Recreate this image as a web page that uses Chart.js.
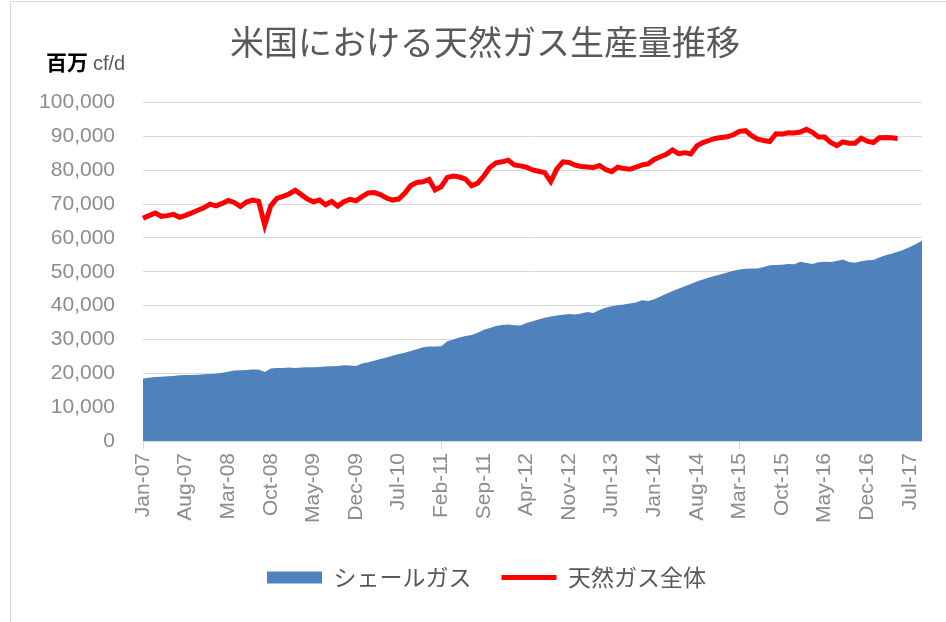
<!DOCTYPE html>
<html lang="ja">
<head>
<meta charset="utf-8">
<script src="https://cdn.jsdelivr.net/npm/chart.js@4.4.0/dist/chart.umd.min.js"></script>
<style>
  html, body { margin: 0; padding: 0; background: #fff; }
  #wrap { width: 946px; height: 622px; }
</style>
</head>
<body>
<div id="wrap"><canvas id="gasChart" width="946" height="622"></canvas></div>
<script>
// 月ラベル (Jan-07 〜 Sep-17)
const monthNames = ['Jan', 'Feb', 'Mar', 'Apr', 'May', 'Jun', 'Jul', 'Aug', 'Sep', 'Oct', 'Nov', 'Dec'];
const months = [];
for (let y = 2007; y <= 2017; y++) {
  for (let m = 0; m < 12; m++) {
    if (y === 2017 && m > 8) break;
    months.push(monthNames[m] + '-' + String(y).slice(2));
  }
}

// シェールガス (百万cf/d)
const shaleGas = [
  18500, 18700, 18900, 19000, 19100, 19200, 19400, 19500, 19500, 19600, 19700, 19800,
  19900, 20200, 20500, 20800, 20900, 21000, 21100, 21100, 20400, 21400, 21600, 21600,
  21700, 21600, 21700, 21800, 21800, 21900, 22000, 22100, 22200, 22400, 22300, 22200,
  22900, 23300, 23700, 24200, 24700, 25200, 25700, 26100, 26600, 27100, 27700, 27900,
  27900, 28000, 29500, 30000, 30600, 31000, 31300, 32000, 32900, 33400, 34000, 34300,
  34400, 34200, 34100, 34900, 35400, 35900, 36400, 36800, 37100, 37300, 37500, 37400,
  37700, 38100, 37800, 38700, 39400, 39800, 40100, 40300, 40600, 40900, 41600, 41400,
  41900, 42700, 43500, 44300, 45000, 45700, 46400, 47100, 47700, 48300, 48800, 49300,
  49800, 50300, 50700, 50900, 51000, 51000, 51400, 51900, 52000, 52100, 52300, 52200,
  53000, 52600, 52300, 52800, 53000, 52900, 53200, 53600, 52900, 52700, 53100, 53400,
  53500, 54200, 54900, 55300, 55900, 56500, 57300, 58200, 59200
];

// 天然ガス全体 (百万cf/d)
const totalGas = [
  65800, 66600, 67400, 66400, 66600, 67000, 66100, 66700, 67400, 68200, 68900, 70000,
  69500, 70200, 71100, 70500, 69300, 70600, 71200, 70800, 63800, 69500, 71700, 72300,
  73000, 74100, 72800, 71500, 70700, 71200, 69800, 70800, 69400, 70700, 71400, 71000,
  72200, 73300, 73400, 72800, 71800, 71200, 71500, 73200, 75500, 76400, 76600, 77300,
  74200, 75200, 77900, 78300, 78000, 77400, 75400, 76200, 78300, 80800, 82200, 82500,
  83000, 81600, 81300, 80900, 80100, 79700, 79300, 76700, 80400, 82500, 82300, 81500,
  81100, 81000, 80800, 81400, 80200, 79600, 80900, 80500, 80300, 80900, 81600, 81900,
  83200, 84000, 84700, 86000, 84900, 85200, 84800, 87200, 88200, 88800, 89400, 89700,
  89900, 90500, 91500, 91700, 90200, 89200, 88800, 88500, 90800, 90700, 91100, 91000,
  91300, 92100, 91200, 89800, 89800, 88200, 87300, 88400, 88000, 88000, 89500, 88600,
  88200, 89600, 89700, 89600, 89400
];

const seriesNames = ['シェールガス', '天然ガス全体'];
const chartTitle = '米国における天然ガス生産量推移';
const labelEvery = 7;

const jpFont = '"Noto Sans CJK JP", "Noto Sans", sans-serif';
const numFont = '"Liberation Sans", Arial, sans-serif';
const gridColor = '#d9d9d9';

// 枠線・タイトル・単位ラベル、凡例の位置調整
const extras = {
  id: 'extras',
  afterLayout(chart) {
    // 凡例をプロット中央寄りに少し右へ
    chart.legend.left += 13;
    chart.legend.right += 13;
  },
  afterDraw(chart) {
    const ctx = chart.ctx;
    ctx.save();
    ctx.strokeStyle = gridColor;
    ctx.lineWidth = 1;
    ctx.beginPath();
    ctx.moveTo(10.5, 622);
    ctx.lineTo(10.5, 1.5);
    ctx.lineTo(946, 1.5);
    ctx.stroke();

    ctx.fillStyle = '#595959';
    ctx.font = '34px ' + jpFont;
    ctx.textAlign = 'center';
    ctx.textBaseline = 'middle';
    ctx.fillText(chartTitle, 485, 42);

    ctx.textAlign = 'left';
    ctx.textBaseline = 'alphabetic';
    ctx.fillStyle = '#000';
    ctx.font = 'bold 21px ' + jpFont;
    ctx.fillText('百万', 46, 70);
    const w = ctx.measureText('百万').width;
    ctx.fillStyle = '#595959';
    ctx.font = '20px ' + numFont;
    ctx.fillText('cf/d', 46 + w + 5, 70);
    ctx.restore();
  }
};

const ctxGas = document.getElementById('gasChart').getContext('2d');
new Chart(ctxGas, {
  type: 'line',
  data: {
    labels: months,
    datasets: [{
      label: seriesNames[0],
      data: shaleGas,
      backgroundColor: '#4f81bd',
      borderColor: '#4f81bd',
      borderWidth: 0,
      fill: 'origin',
      pointRadius: 0,
      tension: 0
    }, {
      label: seriesNames[1],
      data: totalGas,
      borderColor: '#ff0000',
      backgroundColor: '#ff0000',
      borderWidth: 5,
      fill: false,
      pointRadius: 0,
      tension: 0
    }]
  },
  options: {
    responsive: false,
    animation: false,
    layout: { padding: { left: 25, right: 24, top: 102.6, bottom: 23 } },
    plugins: {
      title: { display: false },
      legend: {
        position: 'bottom',
        labels: {
          color: '#595959',
          font: { family: jpFont, size: 23 },
          usePointStyle: true,
          pointStyleWidth: 55,
          boxHeight: 12,
          padding: 30,
          generateLabels(chart) {
            const items = Chart.defaults.plugins.legend.labels.generateLabels(chart);
            items[0].pointStyle = 'rect';
            items[0].lineWidth = 0;
            items[1].pointStyle = 'line';
            items[1].lineWidth = 5;
            return items;
          }
        }
      },
      tooltip: { enabled: false }
    },
    scales: {
      x: {
        offset: false,
        afterFit(scale) { scale.height = 95; },
        grid: {
          drawOnChartArea: false,
          drawTicks: true,
          tickLength: 8,
          tickColor: c => (c.index % labelEvery === 0 ? gridColor : 'rgba(0,0,0,0)')
        },
        border: { display: true, color: gridColor, width: 1 },
        ticks: {
          autoSkip: false,
          maxRotation: 90,
          minRotation: 90,
          padding: 4,
          color: '#8c8c8c',
          font: { family: numFont, size: 21 },
          callback(value, index) {
            return index % labelEvery === 0 ? months[index] : null;
          }
        }
      },
      y: {
        min: 0,
        max: 100000,
        afterFit(scale) { scale.width = 118; },
        grid: { color: gridColor, lineWidth: 1, drawTicks: false },
        border: { display: false },
        ticks: {
          stepSize: 10000,
          padding: 28,
          color: '#8c8c8c',
          font: { family: numFont, size: 21 },
          callback: v => v.toLocaleString('en-US')
        }
      }
    }
  },
  plugins: [extras]
});
</script>
</body>
</html>
